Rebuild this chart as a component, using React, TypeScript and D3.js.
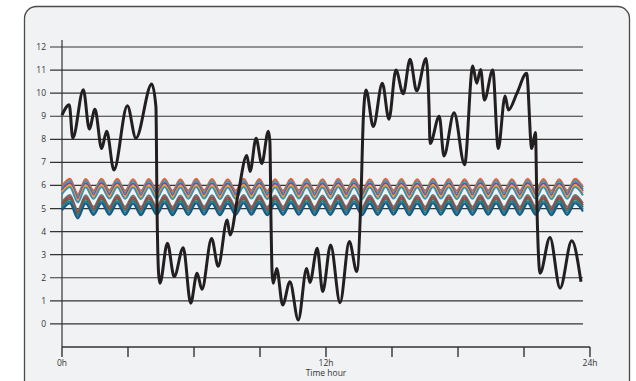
import React from "react";
import * as d3 from "d3";

// black trace: [hour, value]
const traceHours = [
  0, 0.33, 0.49, 0.97, 1.24, 1.5, 1.8, 2.03, 2.36, 2.97, 3.36, 4.08, 4.27, 4.32, 4.39, 4.45,
  4.79, 5.1, 5.51, 5.85, 6.14, 6.36, 6.8, 7.1, 7.51, 7.64, 8.0, 8.4, 8.55, 8.82, 9.08, 9.38,
  9.45, 9.5, 9.55, 9.6, 9.76, 10.03, 10.36, 10.74, 11.12, 11.27, 11.6, 11.85, 12.21, 12.64,
  13.06, 13.4, 13.59, 13.7, 13.82, 14.15, 14.56, 14.86, 15.18, 15.51, 15.82, 16.12, 16.55,
  16.68, 16.73, 17.15, 17.36, 17.82, 18.3, 18.67, 18.85, 19.03, 19.2, 19.58, 19.83, 20.14,
  20.29, 20.68, 21.12, 21.35, 21.52, 21.59, 21.73, 22.18, 22.64, 23.17, 23.59,
];
const traceValues = [
  9.05, 9.5, 8.05, 10.15, 8.45, 9.3, 7.6, 8.35, 6.67, 9.45, 8.05, 10.4, 9.4, 5.0, 2.2, 1.76,
  3.5, 2.05, 3.3, 0.9, 2.2, 1.5, 3.7, 2.5, 4.5, 3.85, 5.6, 7.3, 6.6, 8.05, 6.95, 8.35,
  7.9, 4.5, 2.2, 1.76, 2.4, 0.82, 1.83, 0.17, 2.4, 1.8, 3.28, 1.4, 3.42, 0.92,
  3.57, 2.27, 5.5, 9.0, 10.14, 8.55, 10.43, 8.87, 11.0, 9.97, 11.47, 10.1, 11.5,
  9.5, 7.82, 9.0, 7.28, 9.15, 6.9, 11.18, 10.43, 11.03, 9.7, 11.0, 7.6, 9.88,
  9.27, 10.0, 10.86, 7.6, 8.3, 5.0, 2.2, 3.75, 1.55, 3.6, 1.83,
];

// coloured bands: level of each series and the shared ripple (peaks / troughs)
const bandColors = [
  "#ef5b2b", "#2b9fc2", "#8c3f98", "#f5a11c", "#3a8fb7",
  "#5d7d6a", "#c12f4d", "#3f7a4c", "#1d7aa3", "#1b587f",
];
const bandLevels = [6.03, 5.94, 5.85, 5.76, 5.67, 5.33, 5.24, 5.15, 5.06, 4.97];
const ripple = [
  -0.05, 0.26, -0.4, 0.25, -0.25, 0.26, -0.24, 0.26, -0.25, 0.24,
  -0.26, 0.25, -0.24, 0.26, -0.26, 0.24, -0.25, 0.26, -0.24, 0.25,
  -0.26, 0.24, -0.25, 0.26, -0.24, 0.25, -0.26, 0.24, -0.25, 0.26,
  -0.24, 0.25, -0.26, 0.24, -0.25, 0.26, -0.24, 0.25, -0.26, 0.24,
  -0.25, 0.26, -0.24, 0.25, -0.26, 0.24, -0.25, 0.26, -0.24, 0.25,
  -0.26, 0.24, -0.25, 0.26, -0.24, 0.25, -0.26, 0.24, -0.25, 0.26,
  -0.24, 0.25, -0.26, 0.24, -0.25, 0.26, -0.1,
];
const rippleEnd = 23.68;

const yTicks = [0, 1, 2, 3, 4, 5, 6, 7, 8, 9, 10, 11, 12];
const xTicks = [0, 3, 6, 9, 12, 15, 18, 21, 24];
const xLabels: Record<number, string> = { 0: "0h", 12: "12h", 24: "24h" };

const W = 636, H = 381;

export default function App() {
  const x = d3.scaleLinear().domain([0, 24]).range([62, 590]);
  const y = d3.scaleLinear().domain([-1, 12]).range([347, 47]);

  const line = d3
    .line<[number, number]>()
    .x((d) => x(d[0]))
    .y((d) => y(d[1]))
    .curve(d3.curveMonotoneX);

  const trace = traceHours.map((h, i) => [h, traceValues[i]] as [number, number]);
  const step = rippleEnd / (ripple.length - 1);
  const bands = bandLevels.map((lvl) =>
    ripple.map((r, i) => [i * step, lvl + r] as [number, number])
  );

  const font = "'Open Sans', 'DejaVu Sans', sans-serif";

  return (
    <svg
      width={W}
      height={H}
      style={{ position: "absolute", left: 0, top: 0, background: "#fff" }}
      fontFamily={font}
    >
      <rect x={24.5} y={6.5} width={605} height={400} rx={12} fill="#f1f2f4" stroke="#4a4a4a" strokeWidth={1.3} />

      {/* grid lines + y ticks */}
      {yTicks.map((t) => (
        <g key={t}>
          <line x1={50} x2={x(rippleEnd)} y1={y(t)} y2={y(t)} stroke="#333" strokeWidth={1.2} />
          <text x={46} y={y(t) + 3} fontSize={8.5} textAnchor="end" fill="#333">
            {t}
          </text>
        </g>
      ))}

      {/* y axis */}
      <line x1={x(0)} x2={x(0)} y1={40} y2={y(-1)} stroke="#333" strokeWidth={1.2} />

      {/* coloured bands */}
      {bands.map((b, i) => (
        <path key={i} d={line(b) || ""} fill="none" stroke={bandColors[i]} strokeWidth={2} />
      ))}

      {/* black trace */}
      <path d={line(trace) || ""} fill="none" stroke="#231f20" strokeWidth={3} strokeLinejoin="round" />

      {/* x axis */}
      <line x1={x(0)} x2={x(24)} y1={y(-1)} y2={y(-1)} stroke="#333" strokeWidth={1.4} />
      {xTicks.map((t) => (
        <g key={t}>
          <line x1={x(t)} x2={x(t)} y1={y(-1)} y2={y(-1) + 10} stroke="#333" strokeWidth={1.4} />
          {xLabels[t] && (
            <text x={x(t)} y={366} fontSize={8.5} textAnchor="middle" fill="#333">
              {xLabels[t]}
            </text>
          )}
        </g>
      ))}
      <text x={x(12)} y={376} fontSize={8.5} textAnchor="middle" fill="#333">
        Time hour
      </text>
    </svg>
  );
}
